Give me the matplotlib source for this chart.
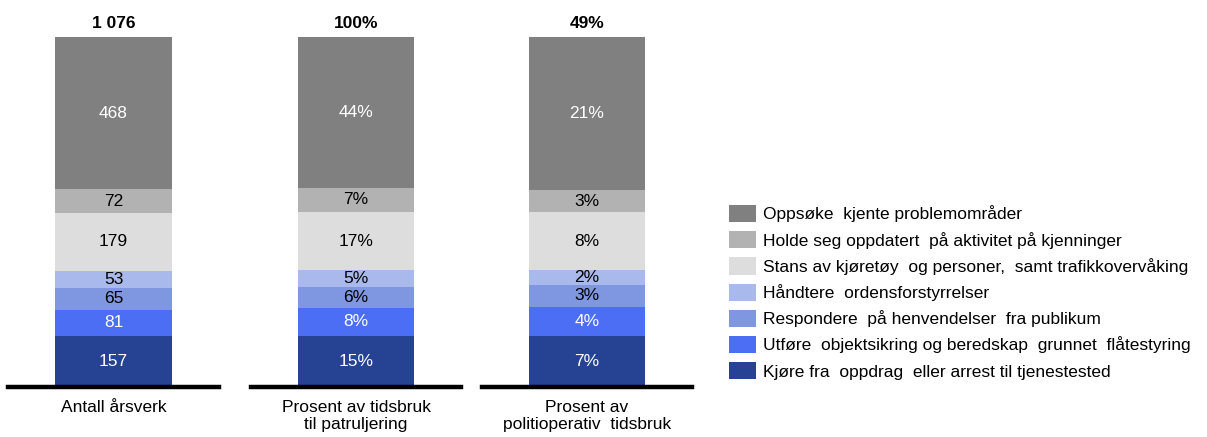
import matplotlib.pyplot as plt
from matplotlib.patches import Patch
from matplotlib.transforms import ScaledTranslation

plt.rcParams['font.family'] = ['Liberation Sans', 'DejaVu Sans']

# Data, bottom segment first
categories = [
    'Kjøre fra  oppdrag  eller arrest til tjenestested',
    'Utføre  objektsikring og beredskap  grunnet  flåtestyring',
    'Respondere  på henvendelser  fra publikum',
    'Håndtere  ordensforstyrrelser',
    'Stans av kjøretøy  og personer,  samt trafikkovervåking',
    'Holde seg oppdatert  på aktivitet på kjenninger',
    'Oppsøke  kjente problemområder',
]
arsverk = [157, 81, 65, 53, 179, 72, 468]
pct_patrulje = [15, 8, 6, 5, 17, 7, 44]
pct_politiop = [7, 4, 3, 2, 8, 3, 21]

bar_labels = ['Antall årsverk', 'Prosent av tidsbruk\ntil patruljering',
              'Prosent av\npolitioperativ  tidsbruk']
totals = ['1 076', '100%', '49%']

colors = ['#254293', '#4b6ef5', '#7f97e0', '#a9b9eb', '#dddddd', '#b2b2b2', '#808080']
text_colors = ['white', 'white', 'black', 'black', 'black', 'black', 'white']

W, H = 1207, 437
fs = 12.5
fig = plt.figure(figsize=(W / 100, H / 100), dpi=100)

series = [(arsverk, '{}'), (pct_patrulje, '{}%'), (pct_politiop, '{}%')]
ax_x = [(8, 219), (251, 461), (482, 692)]
y_base, y_top = 387, 37

for (vals, fmt), (x0, x1), lab, tot in zip(series, ax_x, bar_labels, totals):
    ax = fig.add_axes([x0 / W, 1 - y_base / H, (x1 - x0) / W, (y_base - y_top) / H])
    total = sum(vals)
    bottom = 0
    for v, c, tc in zip(vals, colors, text_colors):
        ax.bar(0, v, width=0.555, bottom=bottom, color=c, edgecolor='none')
        ax.text(0, bottom + v / 2, fmt.format(v), ha='center', va='center',
                color=tc, fontsize=fs)
        bottom += v
    ax.set_xlim(-0.5, 0.5)
    ax.set_ylim(0, total)
    ax.axhline(0, color='black', linewidth=3.2, clip_on=False)
    ax.axis('off')
    # sum label above the bar
    ax.text(0, total, tot, ha='center', va='bottom', fontsize=fs,
            fontweight='bold',
            transform=ax.transData + ScaledTranslation(0, 6 / 100, fig.dpi_scale_trans))
    ax.text(0.5, -0.036, lab, ha='center', va='top', fontsize=fs,
            transform=ax.transAxes, linespacing=1.22)

handles = [Patch(facecolor=c, edgecolor='none') for c in colors][::-1]
fig.legend(handles, categories[::-1], loc='upper left',
           bbox_to_anchor=(729 / W, 1 - 205 / H), frameon=False,
           fontsize=fs, borderpad=0, borderaxespad=0,
           handlelength=1.55, handleheight=1.15, handletextpad=0.4,
           labelspacing=0.5)

fig.savefig('out.png', dpi=100)
